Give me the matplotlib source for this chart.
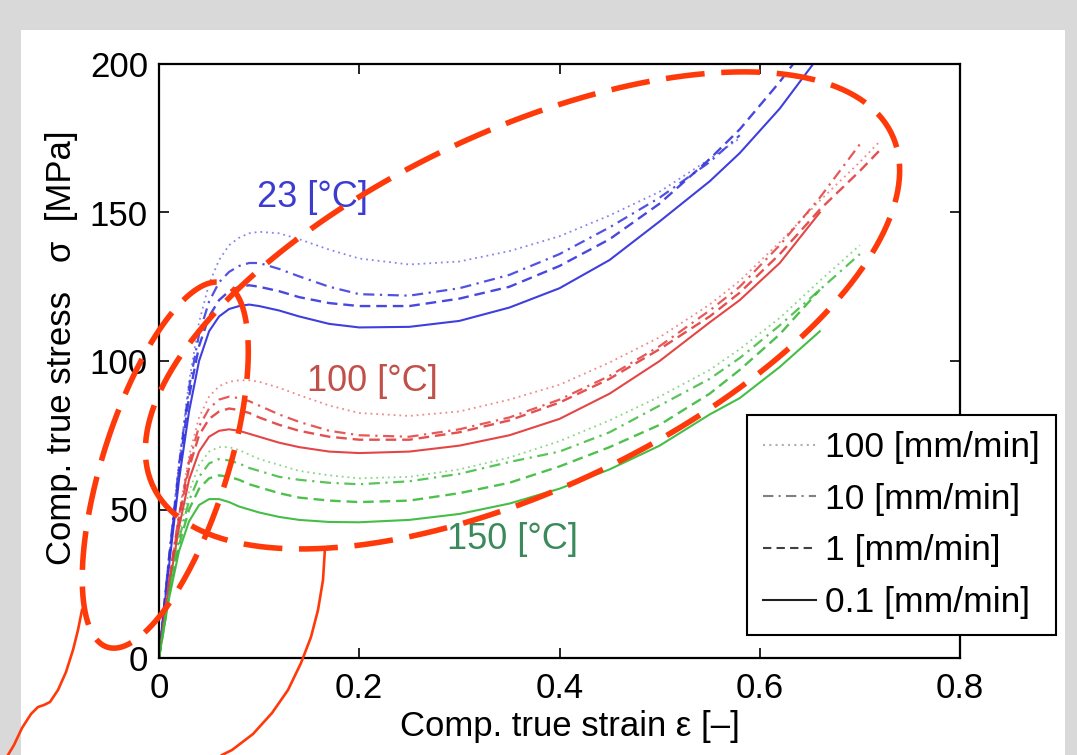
import numpy as np
import matplotlib
matplotlib.use("Agg")
import matplotlib.pyplot as plt
from matplotlib.lines import Line2D
from matplotlib.patches import Rectangle

plt.rcParams['font.family'] = ['Liberation Sans', 'DejaVu Sans']

# strain grid shared by all curves (a curve stops where its list ends)
strain = [0, 0.005, 0.01, 0.02, 0.03, 0.04, 0.05, 0.06, 0.07, 0.08, 0.09, 0.10,
          0.12, 0.14, 0.17, 0.20, 0.25, 0.30, 0.35, 0.40, 0.45, 0.50, 0.55,
          0.58, 0.62, 0.66, 0.70, 0.72]

# 23 degC
s23_100 = [0, 17, 34, 66, 93, 113, 126, 134, 139, 141.5, 143, 143.5, 143, 141, 137.5,
           134.5, 132.5, 133.5, 137, 142, 149, 157, 168, 175]
s23_10 = [0, 17, 34, 65, 91, 109, 120, 126.5, 130, 132, 133, 133, 131, 128.5, 125,
          122.5, 122, 124.5, 129, 136, 145, 155, 167, 176]
s23_1 = [0, 17, 33, 63, 88, 105, 115, 120.5, 123.5, 125, 125.5, 125, 123.5, 121.5, 119.5,
         118.5, 118.5, 121, 125, 132, 141, 153, 168, 178, 194, 212]
s23_01 = [0, 16, 31, 60, 83, 100, 110, 115, 117.5, 118.5, 119, 118.5, 117, 115, 112.5,
          111.3, 111.5, 113.5, 118, 124.5, 134, 147, 160.5, 170, 185, 203]

# 100 degC
s100_100 = [0, 13, 26, 49, 68, 81, 88, 91.5, 93, 93.5, 93.5, 93, 91, 88.5, 85,
            82.5, 81.5, 83, 87, 92, 99.5, 108, 119, 127, 140, 154, 167, 174]
s100_10 = [0, 13, 26, 48, 66, 78, 84, 87, 88, 87.5, 86.5, 85, 82, 79.5, 76.5,
           75, 74.5, 77, 81, 87, 95, 105, 117, 125, 139, 155, 173]
s100_1 = [0, 12.5, 25, 47, 64, 75, 80.5, 83, 84, 83.5, 82.5, 81, 78.5, 76.5, 74.5,
          73.5, 73.5, 76, 80, 86, 94, 104, 115, 123, 136, 151, 164, 171]
s100_01 = [0, 12, 24, 44, 60, 69.5, 74.5, 76.5, 77, 76.5, 75.5, 74.5, 72.5, 71, 69.5,
           69, 69.5, 71.5, 75, 80.5, 89, 100, 113, 120.5, 133, 150]

# 150 degC
s150_100 = [0, 11.5, 23, 42, 56, 65, 69.5, 71, 71, 70, 68.5, 67, 65, 63, 61.5,
            60.5, 61, 63.5, 67.5, 73, 80, 88, 97, 104, 114.5, 127, 139]
s150_10 = [0, 11, 22, 40, 53, 61, 65.5, 67, 66.5, 65.5, 64, 63, 61, 60, 59,
           58.5, 59.5, 62, 66, 69.5, 76, 85, 94, 101, 112, 124, 136]
s150_1 = [0, 10.5, 21, 38, 50, 57, 60.5, 61.5, 61, 60, 58.5, 57.5, 55.5, 54, 53,
          52.5, 53, 55.5, 59, 64.5, 71, 78.5, 89, 97, 109, 124]
s150_01 = [0, 10, 20, 36, 46, 51.5, 53.5, 53.5, 52.5, 51, 50, 49, 47.5, 46.5, 45.8,
           45.7, 46.5, 48.5, 52, 57, 63.5, 71.5, 82, 87.5, 98, 110]

rates = ['100 [mm/min]', '10 [mm/min]', '1 [mm/min]', '0.1 [mm/min]']
temps = ['23 [°C]', '100 [°C]', '150 [°C]']

curves = {
    '23 [°C]': [s23_100, s23_10, s23_1, s23_01],
    '100 [°C]': [s100_100, s100_10, s100_1, s100_01],
    '150 [°C]': [s150_100, s150_10, s150_1, s150_01],
}
colors = {'23 [°C]': '#3434dc', '100 [°C]': '#e23c3c', '150 [°C]': '#3cba3c'}
label_colors = {'23 [°C]': '#3c3cd0', '100 [°C]': '#c0504a', '150 [°C]': '#3a8a5c'}
label_pos = {'23 [°C]': (0.153, 155), '100 [°C]': (0.213, 93), '150 [°C]': (0.353, 40)}

styles = [dict(ls=(0, (1, 2.2)), lw=1.3, alpha=0.6),
          dict(ls=(0, (5, 2.5, 1, 2.5)), lw=1.6, alpha=0.85),
          dict(ls=(0, (4.5, 2.5)), lw=1.7, alpha=0.9),
          dict(ls='-', lw=1.5, alpha=0.95)]

fig = plt.figure(figsize=(10.77, 7.55), dpi=100)
fig.patch.set_facecolor('#d9d9d9')
fig.add_artist(Rectangle((21 / 1077, 0), (1065 - 21) / 1077, (755 - 30) / 755,
                         transform=fig.transFigure, facecolor='white',
                         edgecolor='none', zorder=-5))

ax = fig.add_axes([159 / 1077, 1 - 658 / 755, (960 - 159) / 1077, (658 - 64) / 755])

for t in temps:
    for sig, st in zip(curves[t], styles):
        ax.plot(strain[:len(sig)], sig, color=colors[t], **st)
    ax.text(*label_pos[t], t, color=label_colors[t], fontsize=26,
            ha='center', va='center')

ax.set_xlim(0, 0.8)
ax.set_ylim(0, 200)
ax.set_xticks([0, 0.2, 0.4, 0.6, 0.8])
ax.set_xticklabels(['0', '0.2', '0.4', '0.6', '0.8'])
ax.set_yticks([0, 50, 100, 150, 200])
ax.tick_params(direction='in', length=7, width=1.2, top=True, right=True,
               labelsize=25)
ax.tick_params(axis='x', pad=10)
ax.tick_params(axis='y', pad=8)
for sp in ax.spines.values():
    sp.set_linewidth(1.6)

ax.set_xlabel('Comp. true strain ε [–]', fontsize=25)
ax.set_ylabel('Comp. true stress   σ  [MPa]', fontsize=25)
ax.xaxis.set_label_coords(0.513, -0.087)
ax.yaxis.set_label_coords(-0.101, 0.522)

handles = [Line2D([], [], color='#b0b0b0', ls=(0, (1, 2)), lw=1.5),
           Line2D([], [], color='#808080', ls=(0, (5, 2.5, 1, 2.5)), lw=1.5),
           Line2D([], [], color='#404040', ls=(0, (4, 2.5)), lw=1.5),
           Line2D([], [], color='#202020', ls='-', lw=1.5)]
leg = ax.legend(handles, rates, loc='upper left',
                bbox_to_anchor=(747 / 1077, 1 - 415 / 755),
                bbox_transform=fig.transFigure, fancybox=False,
                edgecolor='black', framealpha=1, fontsize=25.5, borderaxespad=0,
                handlelength=1.5, handletextpad=0.25, labelspacing=0.53,
                borderpad=0.45)
leg.get_frame().set_linewidth(1.5)


# hand-drawn annotations (figure pixel coordinates)
def fit_ellipse(px, py, n=400):
    x = np.asarray(px, float)
    y = np.asarray(py, float)
    mx, my, s = x.mean(), y.mean(), max(x.std(), y.std())
    xn, yn = (x - mx) / s, (y - my) / s
    D = np.column_stack([xn * xn, xn * yn, yn * yn, xn, yn, np.ones_like(xn)])
    A, B, C, Dd, E, F = np.linalg.svd(D)[2][-1]
    c = np.linalg.solve([[2 * A, B], [B, 2 * C]], [-Dd, -E])
    Fc = A * c[0] ** 2 + B * c[0] * c[1] + C * c[1] ** 2 + Dd * c[0] + E * c[1] + F
    w, R = np.linalg.eigh([[A, B / 2], [B / 2, C]])
    ab = np.sqrt(-Fc / w)
    t = np.linspace(0, 2 * np.pi, n)
    p = R @ np.vstack([ab[0] * np.cos(t), ab[1] * np.sin(t)])
    return (p[0] + c[0]) * s + mx, (p[1] + c[1]) * s + my


big_x = [183, 213, 243, 310, 367, 423, 490, 720, 800, 860, 902, 880, 853, 810,
         760, 707, 647, 570, 507, 400, 307, 233, 190, 160, 145]
big_y = [350, 313, 287, 230, 193, 160, 130, 71, 75, 110, 185, 245, 280, 328,
         372, 411, 447, 483, 508, 540, 550, 543, 523, 493, 440]
small_x = [113, 90, 83, 90, 100, 127, 160, 193, 217, 235, 247, 248, 242, 230,
           215, 193, 175, 157, 135]
small_y = [650, 627, 583, 517, 460, 387, 330, 293, 283, 292, 327, 365, 430, 460,
           510, 560, 595, 620, 642]
hand_a_x = [8, 14, 22, 31, 38, 44, 50, 58, 66, 73, 78, 82]
hand_a_y = [755, 745, 728, 714, 707, 705, 702, 690, 672, 650, 630, 610]
hand_b_x = [325, 323, 318, 311, 301, 288, 272, 253, 232, 222]
hand_b_y = [548, 580, 610, 637, 663, 690, 713, 734, 750, 755]

ov = fig.add_axes([0, 0, 1, 1], zorder=3)
ov.set_xlim(0, 1077)
ov.set_ylim(755, 0)
ov.axis('off')
red = '#ff3a0a'
for ex, ey in [(big_x, big_y), (small_x, small_y)]:
    fx, fy = fit_ellipse(ex, ey)
    ov.plot(fx, fy, color=red, lw=4, ls=(0, (7, 3)), dash_capstyle='butt')
ov.plot(hand_a_x, hand_a_y, color=red, lw=1.9)
ov.plot(hand_b_x, hand_b_y, color=red, lw=1.9)

fig.savefig('out.png', dpi=100)
